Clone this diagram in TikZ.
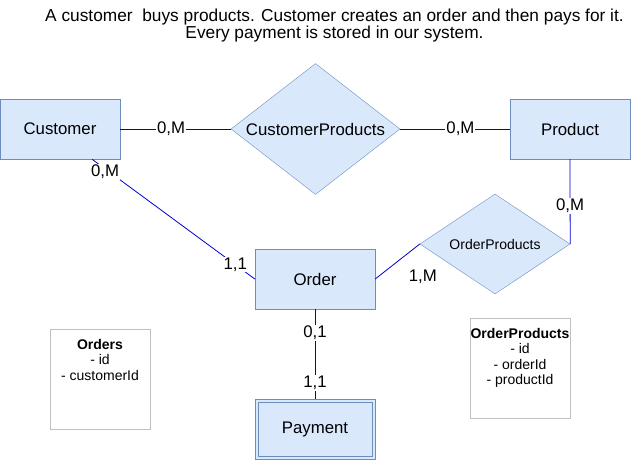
\documentclass[tikz,border=0pt]{standalone}
\usepackage{fontspec}
\setmainfont{Liberation Sans}
\usetikzlibrary{shapes.geometric}
\definecolor{entfill}{HTML}{DAE8FC}
\definecolor{entdraw}{HTML}{6C8EBF}
\definecolor{linkblue}{HTML}{0000CC}
\definecolor{notegray}{HTML}{C0C0C0}
\newcommand{\erfont}{\fontsize{16.8}{16}\selectfont}
\newcommand{\ertitle}{\fontsize{17.3}{16.5}\selectfont}
\newcommand{\ersmall}{\fontsize{14}{15.5}\selectfont}

\begin{document}
\begin{tikzpicture}[x=1pt,y=-1pt,
		entity/.style={rectangle,draw=entdraw,fill=entfill,minimum width=120pt,minimum height=60pt,inner sep=0pt,font=\erfont},
		relation/.style={diamond,draw=entdraw,fill=entfill,inner sep=0pt},
		notebox/.style={rectangle,draw=notegray,inner sep=0pt,font=\ersmall}]
		\useasboundingbox (0,0) rectangle (641,460);
		\node[align=center,font=\ertitle] (Title) at (334.5,25.5) {A customer~ buys products. Customer creates an order and then pays for it.\\Every payment is stored in our system.};
		\begin{scope}[every node/.style={entity}]
			\node (Customer) at (60,129) {Customer};
			\node (Product) at (570,129) {Product};
			\node (Order) at (315,279) {Order};
			\node (Payment) at (315,429.3) {Payment};
		\end{scope}
		% weak entity: second border inside
		\draw[entdraw] ([shift={(3pt,-3pt)}]Payment.north west) rectangle ([shift={(-3pt,3pt)}]Payment.south east);
		\node[relation,aspect=1.29,minimum width=169pt,minimum height=131pt,font=\erfont] (CustProd) at (315.5,129) {CustomerProducts};
		\node[relation,aspect=1.5,minimum width=150pt,minimum height=100pt,font=\ersmall] (OrderProd) at (495,244) {OrderProducts};
		\begin{scope}[every node/.style={fill=white,inner sep=1pt,font=\erfont},
			every edge/.style={draw=linkblue,line width=0.8pt}]
			\path (Customer.east) edge node[pos=0.46] {0,M} (CustProd.west);
			\path (CustProd.east) edge node[pos=0.55] {0,M} (Product.west);
			\path ([xshift=32pt]Customer.south) edge node[pos=0.08,yshift=-3pt] {0,M} node[pos=0.88] {1,1} (Order.west);
			\path (Product.south) edge node[pos=0.55] {0,M} (OrderProd.east);
			\path (Order.east) edge node[at end,fill=none,xshift=3pt,yshift=-33pt] {1,M} (OrderProd.west);
			\path (Order.south) edge node[pos=0.26] {0,1} node[pos=0.82] {1,1} (Payment.north);
		\end{scope}
		\begin{scope}[every node/.style={notebox}]
			\node (OrdersNote) at (100,379) {\parbox[c][100pt][t]{100pt}{\centering\vspace*{10pt}\textbf{Orders}\\- id\\- customerId}};
			\node (OrderProdNote) at (520,368) {\parbox[c][100pt][t]{100pt}{\centering\vspace*{10pt}\textbf{OrderProducts}\\- id\\- orderId\\- productId}};
		\end{scope}
	\end{tikzpicture}
\end{document}
